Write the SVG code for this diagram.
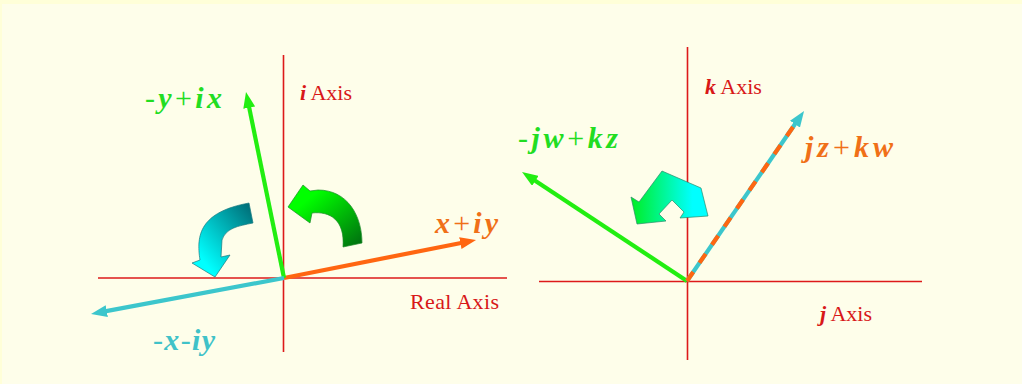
<svg xmlns="http://www.w3.org/2000/svg" width="1022" height="384" viewBox="0 0 1022 384">
<defs>
<style>
.axis{stroke:#dd1a1a;stroke-width:1.6;fill:none}
.vec{stroke-width:4.2;fill:none;stroke-linecap:butt}
.lbl{font-family:"Liberation Serif","DejaVu Serif",serif;fill:#d81818;font-size:22px}
.m{font-family:"Liberation Serif","DejaVu Serif",serif;font-style:italic;font-weight:bold;font-size:30px}
.op{font-style:normal;font-weight:normal}
.mi{font-style:italic;font-weight:bold}
</style>
<marker id="hOr" markerUnits="userSpaceOnUse" viewBox="0 0 16 12" markerWidth="16" markerHeight="12" refX="2" refY="6" orient="auto"><path d="M0,0 L16,6 L0,12 Z" fill="#ff6611"/></marker>
<marker id="hGr" markerUnits="userSpaceOnUse" viewBox="0 0 16 12" markerWidth="16" markerHeight="12" refX="2" refY="6" orient="auto"><path d="M0,0 L16,6 L0,12 Z" fill="#22ee11"/></marker>
<marker id="hCy" markerUnits="userSpaceOnUse" viewBox="0 0 16 12" markerWidth="16" markerHeight="12" refX="2" refY="6" orient="auto"><path d="M0,0 L16,6 L0,12 Z" fill="#3cc6cc"/></marker>
<linearGradient id="gGreen" x1="0" y1="0" x2="1" y2="1"><stop offset="0.25" stop-color="#00ff00"/><stop offset="1" stop-color="#006a10"/></linearGradient>
<linearGradient id="gCyan" x1="0" y1="1" x2="1" y2="0"><stop offset="0.2" stop-color="#00ffff"/><stop offset="1" stop-color="#006670"/></linearGradient>
<linearGradient id="gGC" x1="0" y1="0" x2="1" y2="0"><stop offset="0" stop-color="#00ee22"/><stop offset="0.8" stop-color="#00ffff"/></linearGradient>
</defs>
<rect x="0" y="0" width="1022" height="384" fill="#ffffd8"/>
<rect x="2" y="4" width="1020" height="380" fill="#fefeea"/>

<g id="left-axes">
<line class="axis" x1="283.5" y1="55" x2="283.5" y2="352"/>
<line class="axis" x1="98" y1="278" x2="507" y2="278"/>
</g>
<g id="right-axes">
<line class="axis" x1="687.5" y1="47" x2="687.5" y2="360"/>
<line class="axis" x1="539" y1="281.5" x2="922" y2="281.5"/>
</g>

<g id="rot-green">
<path d="M343,247 L362,243 C362,215 347,190 318,190 L310,191 L303,185 L288,207 L310,223 L312,213 C330,211 345,220 343,247 Z" fill="url(#gGreen)" stroke="#1c8a2a" stroke-width="0.7"/>
</g>
<g id="rot-cyan">
<path d="M249,203 L253,223 C238,226 226,228 222,240 L221,257 L230,255 L215,277 L192,263 L200,260 C196,235 200,212 249,203 Z" fill="url(#gCyan)" stroke="#1a7a80" stroke-width="0.7"/>
</g>
<g id="rot-double">
<path d="M662,171 L701,188 L708,216 L680,218 L684,212 L672,200 L659,214 L666,221 L637,224 L631,197 L639,202 Z" fill="url(#gGC)" stroke="#2a8a6a" stroke-width="0.7"/>
</g>

<g id="connectors">
<line class="vec" x1="284" y1="278" x2="462.3" y2="242.7" stroke="#ff6611" marker-end="url(#hOr)"/>
<line class="vec" x1="284" y1="278" x2="248.8" y2="105.7" stroke="#22ee11" marker-end="url(#hGr)"/>
<line class="vec" x1="284" y1="278" x2="104.8" y2="311.4" stroke="#3cc6cc" marker-end="url(#hCy)"/>
<line class="vec" x1="687" y1="281" x2="533.7" y2="179.7" stroke="#22ee11" marker-end="url(#hGr)"/>
<line class="vec" x1="687" y1="281" x2="796.1" y2="122.5" stroke="#3cc6cc" marker-end="url(#hCy)"/>
<line class="vec" x1="687" y1="281" x2="796.1" y2="122.5" stroke="#ff6611" stroke-dasharray="11 11"/>
</g>

<g id="label-left">
<text class="m" x="145" y="108" fill="#22dd22" textLength="77" lengthAdjust="spacing"><tspan class="op">-</tspan>y<tspan class="op">+</tspan>ix</text>
<text class="lbl" x="300" y="100"><tspan class="mi">i</tspan> Axis</text>
<text class="m" x="435" y="233" fill="#f07018" textLength="63" lengthAdjust="spacing">x<tspan class="op">+</tspan>iy</text>
<text class="lbl" x="410" y="309" textLength="89" lengthAdjust="spacing">Real Axis</text>
<text class="m" x="153" y="350" fill="#40c2c8" textLength="62" lengthAdjust="spacing"><tspan class="op">-</tspan>x<tspan class="op">-</tspan>iy</text>
</g>
<g id="label-right">
<text class="m" x="518" y="148" fill="#22dd22" textLength="100" lengthAdjust="spacing"><tspan class="op">-</tspan>jw<tspan class="op">+</tspan>kz</text>
<text class="lbl" x="705" y="94"><tspan class="mi">k</tspan>  Axis</text>
<text class="m" x="805" y="157" fill="#f07018" textLength="88" lengthAdjust="spacing">jz<tspan class="op">+</tspan>kw</text>
<text class="lbl" x="820" y="321"><tspan class="mi">j</tspan> Axis</text>
</g>
</svg>
